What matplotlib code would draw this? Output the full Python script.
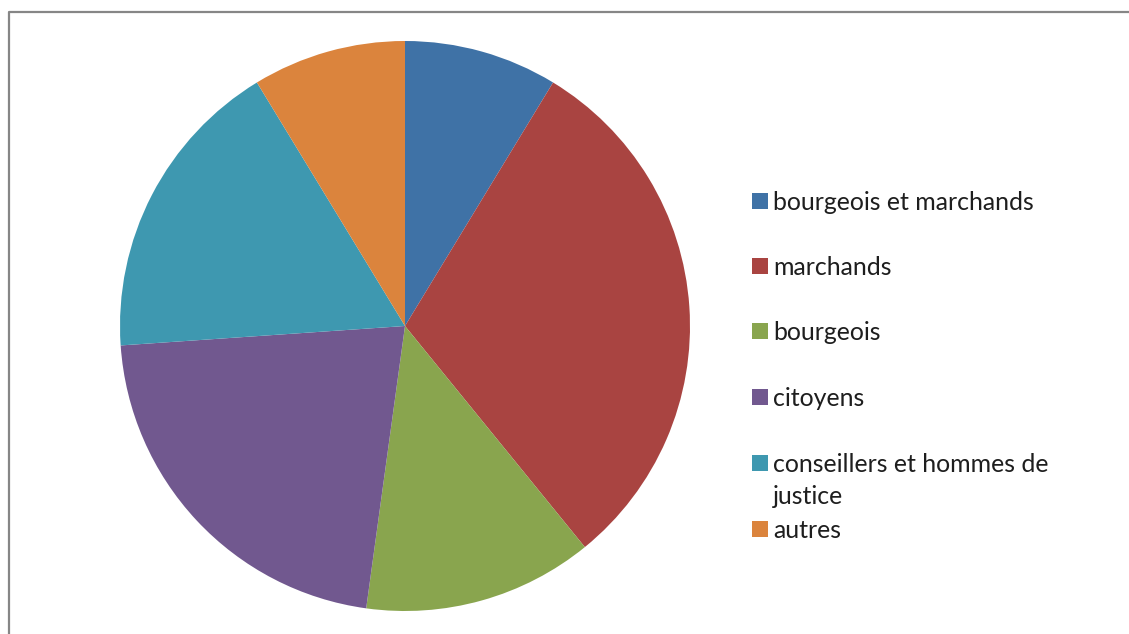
import matplotlib
matplotlib.use("Agg")
import matplotlib.pyplot as plt
from matplotlib.patches import Rectangle
from matplotlib.lines import Line2D

labels = ["bourgeois et marchands", "marchands", "bourgeois", "citoyens",
          "conseillers et hommes de\njustice", "autres"]
values = [2, 7, 3, 5, 4, 2]
colors = ["#3F72A6", "#A94441", "#89A54E", "#71588F", "#3E98B0", "#DB843D"]

W, H = 1129, 634
fig = plt.figure(figsize=(W / 100, H / 100), dpi=100)
fig.patch.set_facecolor("white")

# pie area in pixels: centre (405, 326), radius 285
cx, cy, r = 405, 326, 285
ax = fig.add_axes([(cx - r) / W, (H - cy - r) / H, 2 * r / W, 2 * r / H])
ax.pie(values, colors=colors, startangle=90, counterclock=False,
       radius=1, wedgeprops=dict(linewidth=0))
ax.set_xlim(-1, 1)
ax.set_ylim(-1, 1)
ax.set_aspect("equal")
ax.axis("off")

# chart frame (left and top edges)
fig.add_artist(Line2D([8.5 / W, 8.5 / W, 1], [0, 1 - 11.5 / H, 1 - 11.5 / H],
                      transform=fig.transFigure, color="#868686", lw=1.6))

# legend, one baseline per text line
row_y = [201, 266, 331, 397, 463, 529]
for lab, col, y in zip(labels, colors, row_y):
    fig.add_artist(Rectangle((752 / W, 1 - (y + 8) / H), 16 / W, 16 / H,
                             transform=fig.transFigure, color=col, lw=0))
    for k, line in enumerate(lab.split("\n")):
        fig.text(773 / W, 1 - (y + 9 + 32 * k) / H, line, fontsize=17.9,
                 family="Lato", color="#1E1E1E", va="baseline", ha="left")

fig.savefig("out.png", dpi=100)
